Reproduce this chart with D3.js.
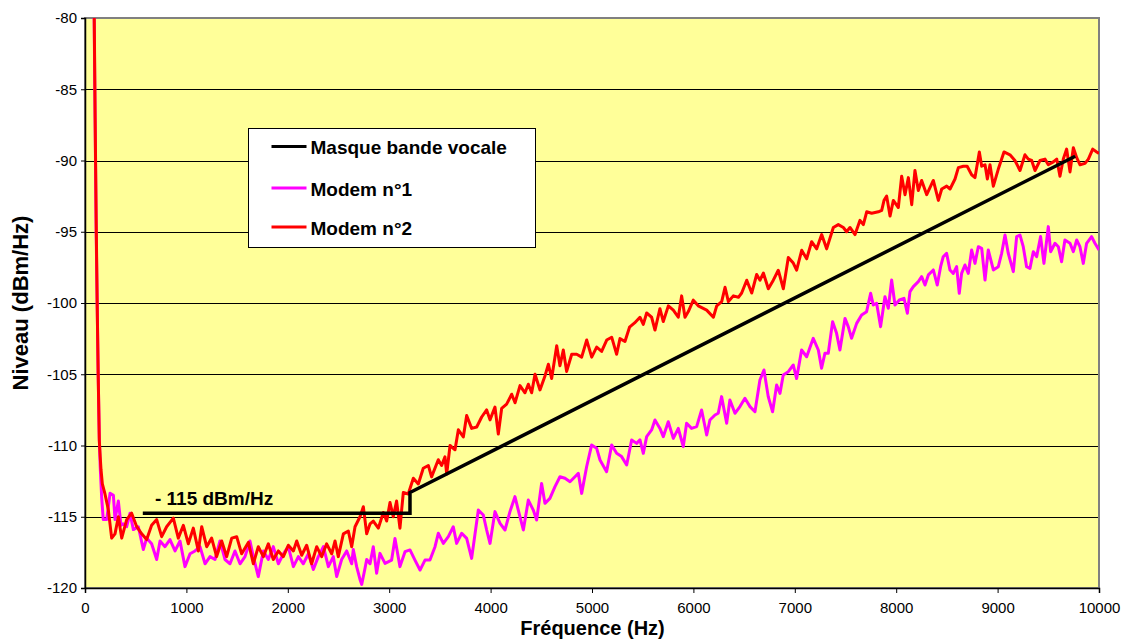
<!DOCTYPE html>
<html>
<head>
<meta charset="utf-8">
<script src="https://cdn.jsdelivr.net/npm/d3@7"></script>
<style>
    body { margin: 0; background: #fff; }
    svg { display: block; font-family: "Liberation Sans", Arial, sans-serif; }
</style>
</head>
<body>
<div id="chart"></div>
<script>
// Spectre des modems vs masque bande vocale

const xTicks = [0, 1000, 2000, 3000, 4000, 5000, 6000, 7000, 8000, 9000, 10000];
const yTicks = [-120, -115, -110, -105, -100, -95, -90, -85, -80];

const seriesNames = ['Masque bande vocale', 'Modem n°1', 'Modem n°2'];
const seriesColors = ['#000000', '#ff00ff', '#ff0000'];

// [Hz, dBm/Hz]
const masque = [[570, -114.75], [3205, -114.75], [3205, -113.3], [9765, -89.7]];

const modem1 = [
    [85, -76], [110, -95], [130, -105], [141, -109.5], [150, -111.5], [164, -113.6], [180, -115.2], [214, -115.2],
    [247, -113.35], [280, -113.5], [296, -115.2], [329, -113.9], [355, -115.6], [378, -115.5], [411, -115.7],
    [444, -114.75], [477, -115.9], [526, -115.7], [575, -117.3], [608, -116.5], [657, -116.9], [707, -118.0],
    [740, -116.7], [789, -117.1], [838, -116.6], [888, -117.4], [937, -116.7], [986, -118.5], [1036, -117.6],
    [1085, -117.4], [1134, -117.1], [1184, -118.3], [1233, -117.8], [1282, -118.0], [1331, -116.7], [1381, -118.0],
    [1430, -118.3], [1479, -117.4], [1529, -118.3], [1578, -117.8], [1627, -116.7], [1660, -117.8], [1709, -119.2],
    [1759, -117.4], [1808, -118.0], [1857, -117.1], [1907, -118.3], [1956, -117.6], [2005, -117.1], [2055, -118.5],
    [2104, -117.8], [2153, -118.3], [2203, -117.6], [2252, -118.7], [2301, -117.8], [2351, -117.1], [2400, -118.5],
    [2449, -117.8], [2482, -119.2], [2531, -118.0], [2581, -117.4], [2630, -118.3], [2646, -117.3], [2679, -118.5],
    [2712, -119.4], [2729, -119.75], [2762, -118.6], [2778, -118.0], [2811, -118.3], [2843, -117.1], [2876, -118.97],
    [2909, -117.57], [2959, -118.27], [3024, -118.04], [3057, -116.52], [3106, -118.5], [3156, -117.45], [3205, -117.33],
    [3254, -118.04], [3304, -118.74], [3353, -118.04], [3402, -118.04], [3452, -117.1], [3484, -116.16], [3534, -116.87],
    [3583, -116.4], [3632, -115.7], [3665, -116.87], [3715, -116.16], [3764, -116.52], [3813, -117.92], [3879, -114.53],
    [3928, -114.88], [3961, -115.93], [3994, -116.87], [4043, -114.64], [4093, -115.46], [4142, -115.93], [4191, -114.64],
    [4240, -113.59], [4273, -114.53], [4323, -115.93], [4372, -113.83], [4421, -114.53], [4454, -115.23], [4503, -112.66],
    [4536, -114.06], [4585, -113.71], [4635, -112.89], [4684, -112.19], [4734, -112.3], [4783, -112.54], [4832, -112.19],
    [4865, -111.95], [4898, -113.36], [4947, -111.49], [4996, -109.97], [5046, -110.2], [5079, -111.02], [5144, -111.84],
    [5194, -109.97], [5243, -110.55], [5292, -110.78], [5342, -111.37], [5391, -109.61], [5440, -109.85], [5473, -109.6],
    [5506, -110.55], [5539, -109.38], [5588, -108.91], [5621, -108.21], [5670, -108.8], [5703, -109.38], [5752, -108.33],
    [5802, -109.5], [5851, -108.8], [5900, -110.08], [5933, -108.44], [5982, -108.8], [6032, -108.68], [6081, -107.51],
    [6131, -109.26], [6163, -108.21], [6213, -107.86], [6245, -107.74], [6278, -106.57], [6328, -108.44], [6360, -106.81],
    [6410, -107.74], [6459, -107.27], [6508, -106.69], [6558, -107.27], [6607, -107.63], [6656, -105.4], [6696, -104.7],
    [6738, -106.57], [6781, -107.63], [6821, -105.75], [6854, -106.34], [6886, -105.05], [6936, -104.82], [6985, -104.35],
    [7018, -105.3], [7067, -103.3], [7117, -103.77], [7182, -102.48], [7232, -103.3], [7264, -104.58], [7297, -103.53],
    [7330, -103.53], [7373, -101.31], [7412, -102.13], [7445, -103.3], [7495, -101.08], [7527, -101.66], [7560, -102.48],
    [7610, -101.43], [7659, -100.84], [7708, -100.61], [7748, -99.32], [7774, -100.14], [7807, -100.02], [7846, -101.66],
    [7889, -99.56], [7922, -100.37], [7955, -98.39], [7988, -100.14], [8031, -99.79], [8077, -99.67], [8110, -100.72],
    [8136, -99.2], [8169, -98.85], [8218, -98.5], [8251, -98.15], [8284, -98.74], [8317, -98.03], [8366, -97.68],
    [8405, -98.74], [8438, -97.45], [8464, -96.75], [8497, -96.51], [8530, -97.68], [8563, -97.92], [8596, -97.45],
    [8622, -99.32], [8645, -97.92], [8678, -97.33], [8711, -97.92], [8744, -96.28], [8777, -97.22], [8810, -96.05],
    [8843, -96.16], [8876, -98.39], [8908, -96.28], [8958, -97.68], [9007, -97.45], [9040, -96.51], [9073, -95.23],
    [9105, -96.51], [9155, -97.8], [9188, -95.34], [9221, -95.23], [9253, -96.05], [9286, -97.45], [9319, -97.57],
    [9352, -96.4], [9385, -96.75], [9424, -95.34], [9457, -97.22], [9500, -94.64], [9523, -96.4], [9566, -95.81],
    [9599, -96.05], [9631, -97.1], [9664, -95.58], [9714, -95.81], [9747, -96.4], [9780, -95.58], [9812, -96.05],
    [9845, -97.22], [9878, -95.81], [9927, -95.34], [9960, -95.81], [10000, -96.28]
];

const modem2 = [
    [85, -75], [100, -87], [110, -94], [120, -100], [130, -105], [141, -109.6], [150, -110.8], [158, -111.7],
    [171, -112.7], [197, -113.4], [230, -114.5], [263, -116.5], [296, -116.2], [329, -115.0], [362, -116.5],
    [411, -115.2], [460, -114.75], [510, -115.7], [559, -116.2], [608, -116.6], [657, -115.6], [707, -115.2],
    [756, -116.4], [805, -115.7], [871, -115.1], [920, -116.5], [970, -115.6], [1019, -116.9], [1068, -115.8],
    [1118, -117.4], [1151, -115.7], [1200, -117.1], [1249, -116.5], [1298, -117.8], [1348, -116.7], [1397, -117.8],
    [1447, -116.5], [1496, -116.4], [1545, -117.6], [1611, -116.8], [1660, -118.3], [1709, -117.1], [1759, -117.8],
    [1808, -116.9], [1857, -118.0], [1907, -117.4], [1956, -117.8], [2005, -117.0], [2055, -117.4], [2088, -116.7],
    [2137, -117.7], [2186, -117.0], [2235, -118.3], [2285, -117.1], [2334, -117.8], [2383, -116.9], [2433, -117.6],
    [2466, -116.7], [2498, -117.8], [2548, -116.2], [2597, -116.0], [2630, -117.1], [2663, -115.7], [2712, -115.0],
    [2745, -114.3], [2778, -116.2], [2811, -115.5], [2843, -115.3], [2893, -115.8], [2942, -114.7], [2975, -115.3],
    [3008, -114.0], [3040, -115.0], [3073, -113.9], [3106, -115.8], [3139, -113.3], [3188, -113.4], [3238, -112.3],
    [3287, -112.7], [3336, -111.6], [3386, -111.4], [3418, -112.2], [3484, -111.0], [3517, -111.4], [3550, -110.8],
    [3567, -112.0], [3600, -110.0], [3649, -110.3], [3682, -108.9], [3731, -109.4], [3764, -107.9], [3813, -108.8],
    [3863, -108.7], [3912, -108.0], [3961, -107.5], [3994, -108.2], [4043, -107.3], [4076, -109.2], [4109, -107.4],
    [4158, -107.1], [4208, -106.4], [4241, -107.0], [4290, -105.8], [4339, -106.3], [4372, -105.7], [4405, -106.3],
    [4438, -105.0], [4487, -106.1], [4537, -105.1], [4570, -104.3], [4602, -105.3], [4652, -103.0], [4684, -104.4],
    [4717, -103.3], [4750, -104.8], [4800, -103.6], [4849, -103.6], [4898, -103.8], [4948, -102.6], [4997, -103.8],
    [5046, -103.1], [5095, -103.4], [5145, -102.6], [5194, -102.4], [5243, -103.6], [5276, -102.5], [5325, -102.7],
    [5370, -101.7], [5420, -101.4], [5473, -101.0], [5506, -101.5], [5539, -100.7], [5588, -101.0], [5621, -101.9],
    [5670, -100.4], [5703, -101.3], [5753, -100.2], [5802, -100.5], [5851, -101.0], [5884, -99.5], [5917, -101.0],
    [5950, -100.6], [5999, -99.8], [6048, -100.2], [6131, -100.5], [6197, -101.0], [6230, -100.2], [6279, -99.9],
    [6312, -98.9], [6345, -99.9], [6394, -99.5], [6444, -99.6], [6476, -99.3], [6526, -98.4], [6575, -99.3],
    [6624, -98.0], [6657, -98.4], [6690, -97.9], [6739, -99.0], [6788, -98.4], [6837, -97.7], [6887, -99.0],
    [6936, -96.8], [6985, -97.2], [7018, -97.7], [7068, -96.3], [7117, -96.9], [7166, -95.7], [7216, -96.2],
    [7265, -95.2], [7314, -96.2], [7380, -94.7], [7429, -94.5], [7479, -94.7], [7511, -95.0], [7544, -94.7],
    [7594, -95.2], [7643, -94.2], [7676, -94.5], [7709, -93.6], [7758, -93.7], [7824, -93.6], [7857, -93.5],
    [7880, -92.8], [7906, -92.5], [7939, -93.9], [7972, -92.8], [8021, -93.3], [8054, -91.1], [8087, -92.4],
    [8120, -91.2], [8153, -93.1], [8185, -90.7], [8218, -92.1], [8251, -91.4], [8301, -92.4], [8366, -91.4],
    [8416, -92.8], [8449, -92.0], [8498, -91.8], [8531, -92.0], [8580, -91.3], [8613, -90.5], [8662, -90.4],
    [8700, -90.4], [8744, -91.0], [8777, -91.2], [8820, -89.4], [8843, -90.4], [8876, -90.3], [8899, -91.3],
    [8925, -90.3], [8958, -91.8], [9007, -90.6], [9063, -89.4], [9122, -89.6], [9171, -90.0], [9221, -90.7],
    [9270, -89.6], [9303, -89.9], [9336, -90.0], [9369, -90.7], [9418, -90.0], [9467, -89.9], [9500, -90.3],
    [9550, -90.1], [9583, -89.9], [9615, -91.1], [9648, -89.9], [9681, -89.2], [9714, -90.8], [9747, -89.1],
    [9780, -89.8], [9813, -90.3], [9862, -90.2], [9895, -89.9], [9938, -89.2], [9977, -89.4], [10000, -89.5]
];

const width = 1122;
const height = 639;
const margin = { top: 18, right: 23, bottom: 51, left: 85 };
const plotW = width - margin.left - margin.right;
const plotH = height - margin.top - margin.bottom;

const svg = d3.select('#chart').append('svg')
    .attr('width', width)
    .attr('height', height);

const x = d3.scaleLinear().domain([0, 10000]).range([0, plotW]);
const y = d3.scaleLinear().domain([-120, -80]).range([plotH, 0]);

const g = svg.append('g')
    .attr('transform', `translate(${margin.left}, ${margin.top})`);

// Plot area background
g.append('rect')
    .attr('width', plotW)
    .attr('height', plotH)
    .attr('fill', '#ffff99');

svg.append('defs').append('clipPath')
    .attr('id', 'plotClip')
    .append('rect')
    .attr('width', plotW)
    .attr('height', plotH);

// Horizontal gridlines
g.append('g')
    .selectAll('line')
    .data(yTicks.slice(1, -1))
    .enter()
    .append('line')
    .attr('x1', 0)
    .attr('x2', plotW)
    .attr('y1', d => Math.round(y(d)) + 0.5)
    .attr('y2', d => Math.round(y(d)) + 0.5)
    .attr('stroke', '#000')
    .attr('stroke-width', 1);

// Border (top / right in gray)
g.append('rect')
    .attr('width', plotW)
    .attr('height', plotH)
    .attr('fill', 'none')
    .attr('stroke', '#808080')
    .attr('stroke-width', 2);

// Axes
const xAxis = d3.axisBottom(x)
    .tickValues(xTicks)
    .tickSize(5)
    .tickPadding(9.5)
    .tickFormat(d3.format('d'));

const yAxis = d3.axisLeft(y)
    .tickValues(yTicks)
    .tickSize(4)
    .tickPadding(4)
    .tickFormat(d => d);

const gx = g.append('g')
    .attr('transform', `translate(0, ${plotH})`)
    .call(xAxis);

const gy = g.append('g').call(yAxis);

[gx, gy].forEach(ax => {
    ax.select('.domain').attr('stroke', '#000').attr('stroke-width', 1.5);
    ax.selectAll('.tick line').attr('stroke', '#000').attr('stroke-width', 1);
    ax.selectAll('.tick text')
        .attr('fill', '#000')
        .attr('font-size', '15px')
        .attr('font-family', '"Liberation Sans", Arial, sans-serif');
});

// Series lines
const line = d3.line()
    .x(d => x(d[0]))
    .y(d => y(d[1]));

const series = g.append('g').attr('clip-path', 'url(#plotClip)');

series.append('path')
    .datum(modem1)
    .attr('d', line)
    .attr('fill', 'none')
    .attr('stroke', seriesColors[1])
    .attr('stroke-width', 3)
    .attr('stroke-linejoin', 'round');

series.append('path')
    .datum(modem2)
    .attr('d', line)
    .attr('fill', 'none')
    .attr('stroke', seriesColors[2])
    .attr('stroke-width', 3)
    .attr('stroke-linejoin', 'round');

series.append('path')
    .datum(masque)
    .attr('d', line)
    .attr('fill', 'none')
    .attr('stroke', seriesColors[0])
    .attr('stroke-width', 3.5)
    .attr('stroke-linejoin', 'miter');

// Mask annotation
g.append('text')
    .attr('x', x(690))
    .attr('y', y(-115) - 12)
    .attr('font-size', '19px')
    .attr('font-weight', 'bold')
    .attr('fill', '#000')
    .text('- 115 dBm/Hz');

// Legend
const legend = svg.append('g')
    .attr('transform', 'translate(248.5, 128.5)');

legend.append('rect')
    .attr('width', 287)
    .attr('height', 119)
    .attr('fill', '#fff')
    .attr('stroke', '#000')
    .attr('stroke-width', 1);

const rows = legend.selectAll('.row')
    .data(seriesNames)
    .enter()
    .append('g')
    .attr('class', 'row')
    .attr('transform', (d, i) => `translate(0, ${[18, 59.5, 98.5][i]})`);

rows.append('line')
    .attr('x1', 23)
    .attr('x2', 58)
    .attr('stroke', (d, i) => seriesColors[i])
    .attr('stroke-width', 3);

rows.append('text')
    .attr('x', 62)
    .attr('y', 7.5)
    .attr('font-size', '19px')
    .attr('font-weight', 'bold')
    .attr('fill', '#000')
    .text(d => d);

// Axis titles
svg.append('text')
    .attr('x', margin.left + plotW / 2 + 0.5)
    .attr('y', 634.5)
    .attr('text-anchor', 'middle')
    .attr('font-size', '20px')
    .attr('font-weight', 'bold')
    .attr('fill', '#000')
    .text('Fréquence (Hz)');

svg.append('text')
    .attr('transform', `translate(28, ${margin.top + plotH / 2}) rotate(-90)`)
    .attr('text-anchor', 'middle')
    .attr('font-size', '22px')
    .attr('font-weight', 'bold')
    .attr('fill', '#000')
    .text('Niveau (dBm/Hz)');
</script>
</body>
</html>
